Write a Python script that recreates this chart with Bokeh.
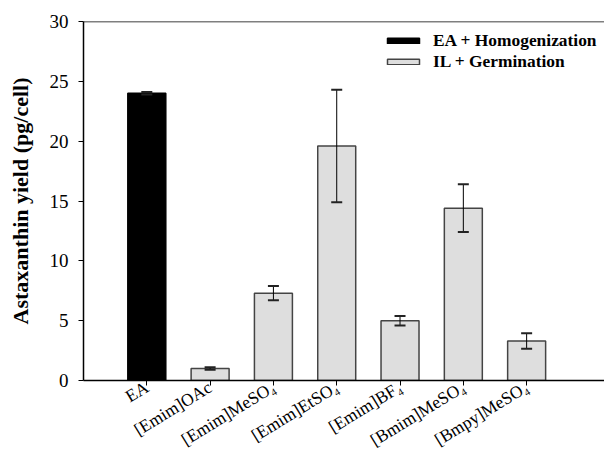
from bokeh.plotting import figure
from bokeh.models import (ColumnDataSource, Range1d, Legend, LegendItem, Whisker,
                          TeeHead, Span, FixedTicker)
from bokeh.embed import file_html
from bokeh.resources import INLINE

categories = ["EA", "[Emim]OAc", "[Emim]MeSO\u2084", "[Emim]EtSO\u2084",
              "[Emim]BF\u2084", "[Bmim]MeSO\u2084", "[Bmpy]MeSO\u2084"]
yields = [24.0, 1.0, 7.3, 19.6, 5.0, 14.4, 3.3]
errors = [0.1, 0.1, 0.6, 4.7, 0.4, 2.0, 0.65]
groups = ["EA + Homogenization", "IL + Germination", "IL + Germination",
          "IL + Germination", "IL + Germination", "IL + Germination",
          "IL + Germination"]
group_colors = {"EA + Homogenization": "black", "IL + Germination": "#dedede"}
group_lines = {"EA + Homogenization": "black", "IL + Germination": "#444444"}
y_ticks = [0, 5, 10, 15, 20, 25, 30]

xs = list(range(1, len(categories) + 1))
src = ColumnDataSource(dict(
    x=xs, top=yields,
    upper=[v + e for v, e in zip(yields, errors)],
    lower=[v - e for v, e in zip(yields, errors)],
    fill=[group_colors[g] for g in groups],
    line=[group_lines[g] for g in groups],
    group=groups,
))

FONT = "Liberation Serif"

p = figure(width=604, height=461, output_backend="svg", toolbar_location=None,
           x_range=Range1d(0, 8.23), y_range=Range1d(0, 30),
           min_border_left=83, min_border_right=0, min_border_top=21,
           min_border_bottom=80)
p.outline_line_color = None
p.xgrid.visible = False
p.ygrid.visible = False
p.background_fill_color = "white"
p.border_fill_color = "white"

r = p.vbar(x="x", top="top", bottom=0, width=0.6, source=src,
           fill_color="fill", line_color="line", line_width=1.5)

w = Whisker(source=src, base="x", upper="upper", lower="lower",
            line_color="black", line_width=1, level="overlay",
            upper_head=TeeHead(size=11, line_width=2, line_color="#222222"),
            lower_head=TeeHead(size=11, line_width=2, line_color="#222222"))
p.add_layout(w)

p.add_layout(Span(location=30, dimension="width", line_color="black", line_width=1.5))

# axes
for ax in (p.xaxis, p.yaxis):
    ax.major_label_text_color = "black"
    ax.major_label_text_font = FONT
    ax.minor_tick_line_color = None
    ax.major_tick_in = 0
    ax.major_tick_out = 5
    ax.axis_line_width = 1.5
    ax.major_tick_line_width = 1
    ax.axis_line_color = "black"
    ax.major_tick_line_color = "black"

p.yaxis.ticker = FixedTicker(ticks=y_ticks)
p.yaxis.axis_label = "Astaxanthin yield (pg/cell)"
p.yaxis.axis_label_text_font = FONT
p.yaxis.axis_label_text_font_style = "bold"
p.yaxis.axis_label_text_font_size = "22px"
p.yaxis.axis_label_text_color = "black"
p.yaxis.axis_label_standoff = 14
p.yaxis.major_label_text_font_size = "19px"
p.yaxis.major_label_standoff = 10

p.xaxis.ticker = FixedTicker(ticks=xs)
p.xaxis.major_label_overrides = {x: c for x, c in zip(xs, categories)}
p.xaxis.major_label_orientation = 0.55
p.xaxis.major_label_text_font_size = "17.5px"
p.xaxis.major_label_standoff = 0

ea_idx = [i for i, g in enumerate(groups) if g == "EA + Homogenization"]
il_idx = [i for i, g in enumerate(groups) if g == "IL + Germination"]
legend = Legend(items=[
    LegendItem(label="EA + Homogenization", renderers=[r], index=ea_idx[0]),
    LegendItem(label="IL + Germination", renderers=[r], index=il_idx[0]),
], location=(300, 308))
legend.border_line_color = None
legend.background_fill_alpha = 0
legend.label_text_font = FONT
legend.label_text_font_style = "bold"
legend.label_text_font_size = "17.4px"
legend.label_text_color = "black"
legend.glyph_width = 40
legend.glyph_height = 7
legend.label_height = 14
legend.spacing = 0
legend.padding = 0
legend.margin = 0
legend.label_standoff = 10
p.add_layout(legend)

open("out.html", "w").write(file_html(p, INLINE))
